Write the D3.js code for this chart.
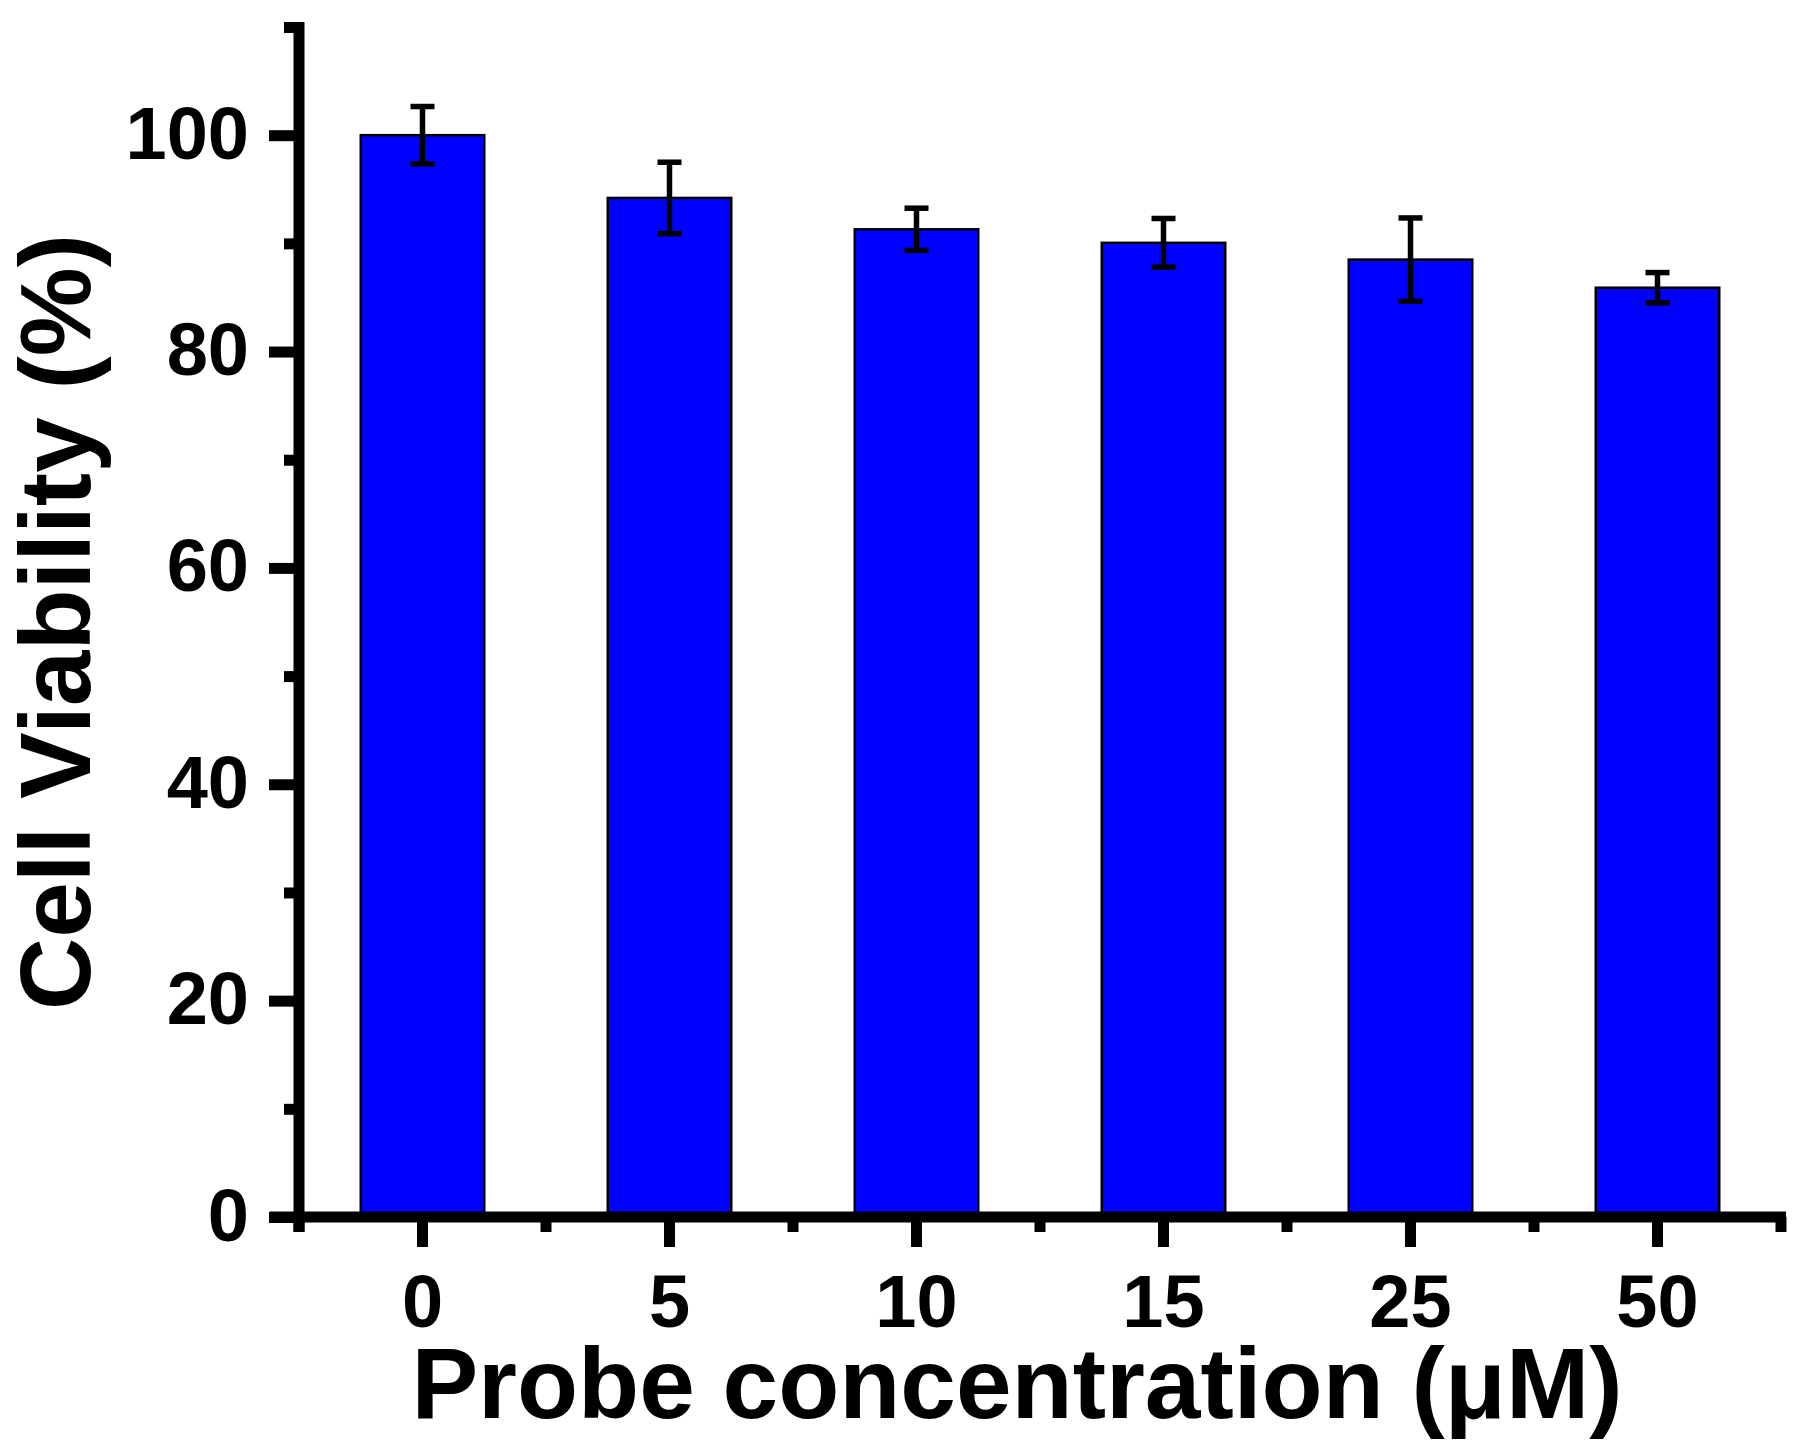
<!DOCTYPE html>
<html>
<head>
<meta charset="utf-8">
<script src="https://cdn.jsdelivr.net/npm/d3@7"></script>
<style>
  html, body { margin: 0; padding: 0; background: #fff; }
  svg { display: block; }
  text { font-family: "Liberation Sans", Arial, sans-serif; font-weight: bold; fill: #000; }
</style>
</head>
<body>
<svg id="chart" width="1800" height="1450"></svg>
<script>
// ---- data ----
const categories = ["0", "5", "10", "15", "25", "50"];
const viability = [100.0, 94.2, 91.3, 90.05, 88.5, 85.9];
const errors = [2.65, 3.3, 1.95, 2.25, 3.85, 1.4];
const yMajorTicks = [0, 20, 40, 60, 80, 100];
const yMinorTicks = [10, 30, 50, 70, 90, 110];
const xTitle = "Probe concentration (\u03BCM)";
const yTitle = "Cell Viability (%)";

// ---- layout ----
const svg = d3.select("#chart");
const plotLeft = 299, plotRight = 1781, plotTop = 27, plotBottom = 1217;
const axisW = 11;

const x = d3.scaleBand().domain(categories).range([plotLeft, plotRight]).padding(0);
const y = d3.scaleLinear().domain([0, 110]).range([plotBottom, plotTop]);
const barW = x.bandwidth() * 0.5;

// bars
svg.append("g").selectAll("rect")
  .data(categories)
  .join("rect")
  .attr("x", (d) => x(d) + x.bandwidth() / 2 - barW / 2)
  .attr("y", (d, i) => y(viability[i]))
  .attr("width", barW)
  .attr("height", (d, i) => plotBottom - y(viability[i]))
  .attr("fill", "#0000ff")
  .attr("stroke", "#000")
  .attr("stroke-width", 2.5);

// error bars
const eg = svg.append("g").attr("stroke", "#000").attr("stroke-width", 5.5);
const capW = 24;
categories.forEach((c, i) => {
  const cx = x(c) + x.bandwidth() / 2;
  const hi = y(viability[i] + errors[i]);
  const lo = y(viability[i] - errors[i]);
  eg.append("line").attr("x1", cx).attr("x2", cx).attr("y1", hi).attr("y2", lo);
  eg.append("line").attr("x1", cx - capW / 2).attr("x2", cx + capW / 2).attr("y1", hi).attr("y2", hi);
  eg.append("line").attr("x1", cx - capW / 2).attr("x2", cx + capW / 2).attr("y1", lo).attr("y2", lo);
});

// y axis: major ticks with labels
const yAxisMajor = d3.axisLeft(y).tickValues(yMajorTicks).tickSize(30).tickSizeOuter(0).tickPadding(20);
const gy = svg.append("g").attr("transform", `translate(${plotLeft},0)`).call(yAxisMajor);
gy.select(".domain").remove();
gy.selectAll(".tick line").attr("stroke", "#000").attr("stroke-width", axisW);
gy.selectAll(".tick text")
  .attr("font-size", 74).attr("dy", null).attr("y", 23)
  .style("font-family", "'Liberation Sans', Arial, sans-serif").style("font-weight", "bold");

// y axis minor ticks
const yAxisMinor = d3.axisLeft(y).tickValues(yMinorTicks).tickSize(15).tickSizeOuter(0).tickFormat("");
const gym = svg.append("g").attr("transform", `translate(${plotLeft},0)`).call(yAxisMinor);
gym.select(".domain").remove();
gym.selectAll(".tick line").attr("stroke", "#000").attr("stroke-width", axisW);

// x axis: major ticks with labels
const xAxisMajor = d3.axisBottom(x).tickSize(30).tickSizeOuter(0).tickPadding(20);
const gx = svg.append("g").attr("transform", `translate(0,${plotBottom})`).call(xAxisMajor);
gx.select(".domain").remove();
gx.selectAll(".tick line").attr("stroke", "#000").attr("stroke-width", axisW);
gx.selectAll(".tick text")
  .attr("font-size", 74).attr("dy", null).attr("y", 110)
  .style("font-family", "'Liberation Sans', Arial, sans-serif").style("font-weight", "bold");

// x axis minor ticks at band boundaries
const xMinorPos = categories.map((c) => x(c)).concat([x.range()[1]]);
svg.append("g").selectAll("line")
  .data(xMinorPos)
  .join("line")
  .attr("x1", (d) => d).attr("x2", (d) => d)
  .attr("y1", plotBottom).attr("y2", plotBottom + 15)
  .attr("stroke", "#000").attr("stroke-width", axisW);

// axis lines
svg.append("line")
  .attr("x1", plotLeft).attr("x2", plotLeft).attr("y1", plotTop - 5).attr("y2", plotBottom + 15)
  .attr("stroke", "#000").attr("stroke-width", axisW);
svg.append("line")
  .attr("x1", plotLeft - 29).attr("x2", plotRight + 5).attr("y1", plotBottom).attr("y2", plotBottom)
  .attr("stroke", "#000").attr("stroke-width", axisW);

// titles
svg.append("text")
  .attr("x", 1017).attr("y", 1418)
  .attr("text-anchor", "middle")
  .attr("font-size", 100)
  .text(xTitle);

svg.append("text")
  .attr("transform", "translate(90,622) rotate(-90)")
  .attr("text-anchor", "middle")
  .attr("font-size", 100)
  .text(yTitle);
</script>
</body>
</html>
